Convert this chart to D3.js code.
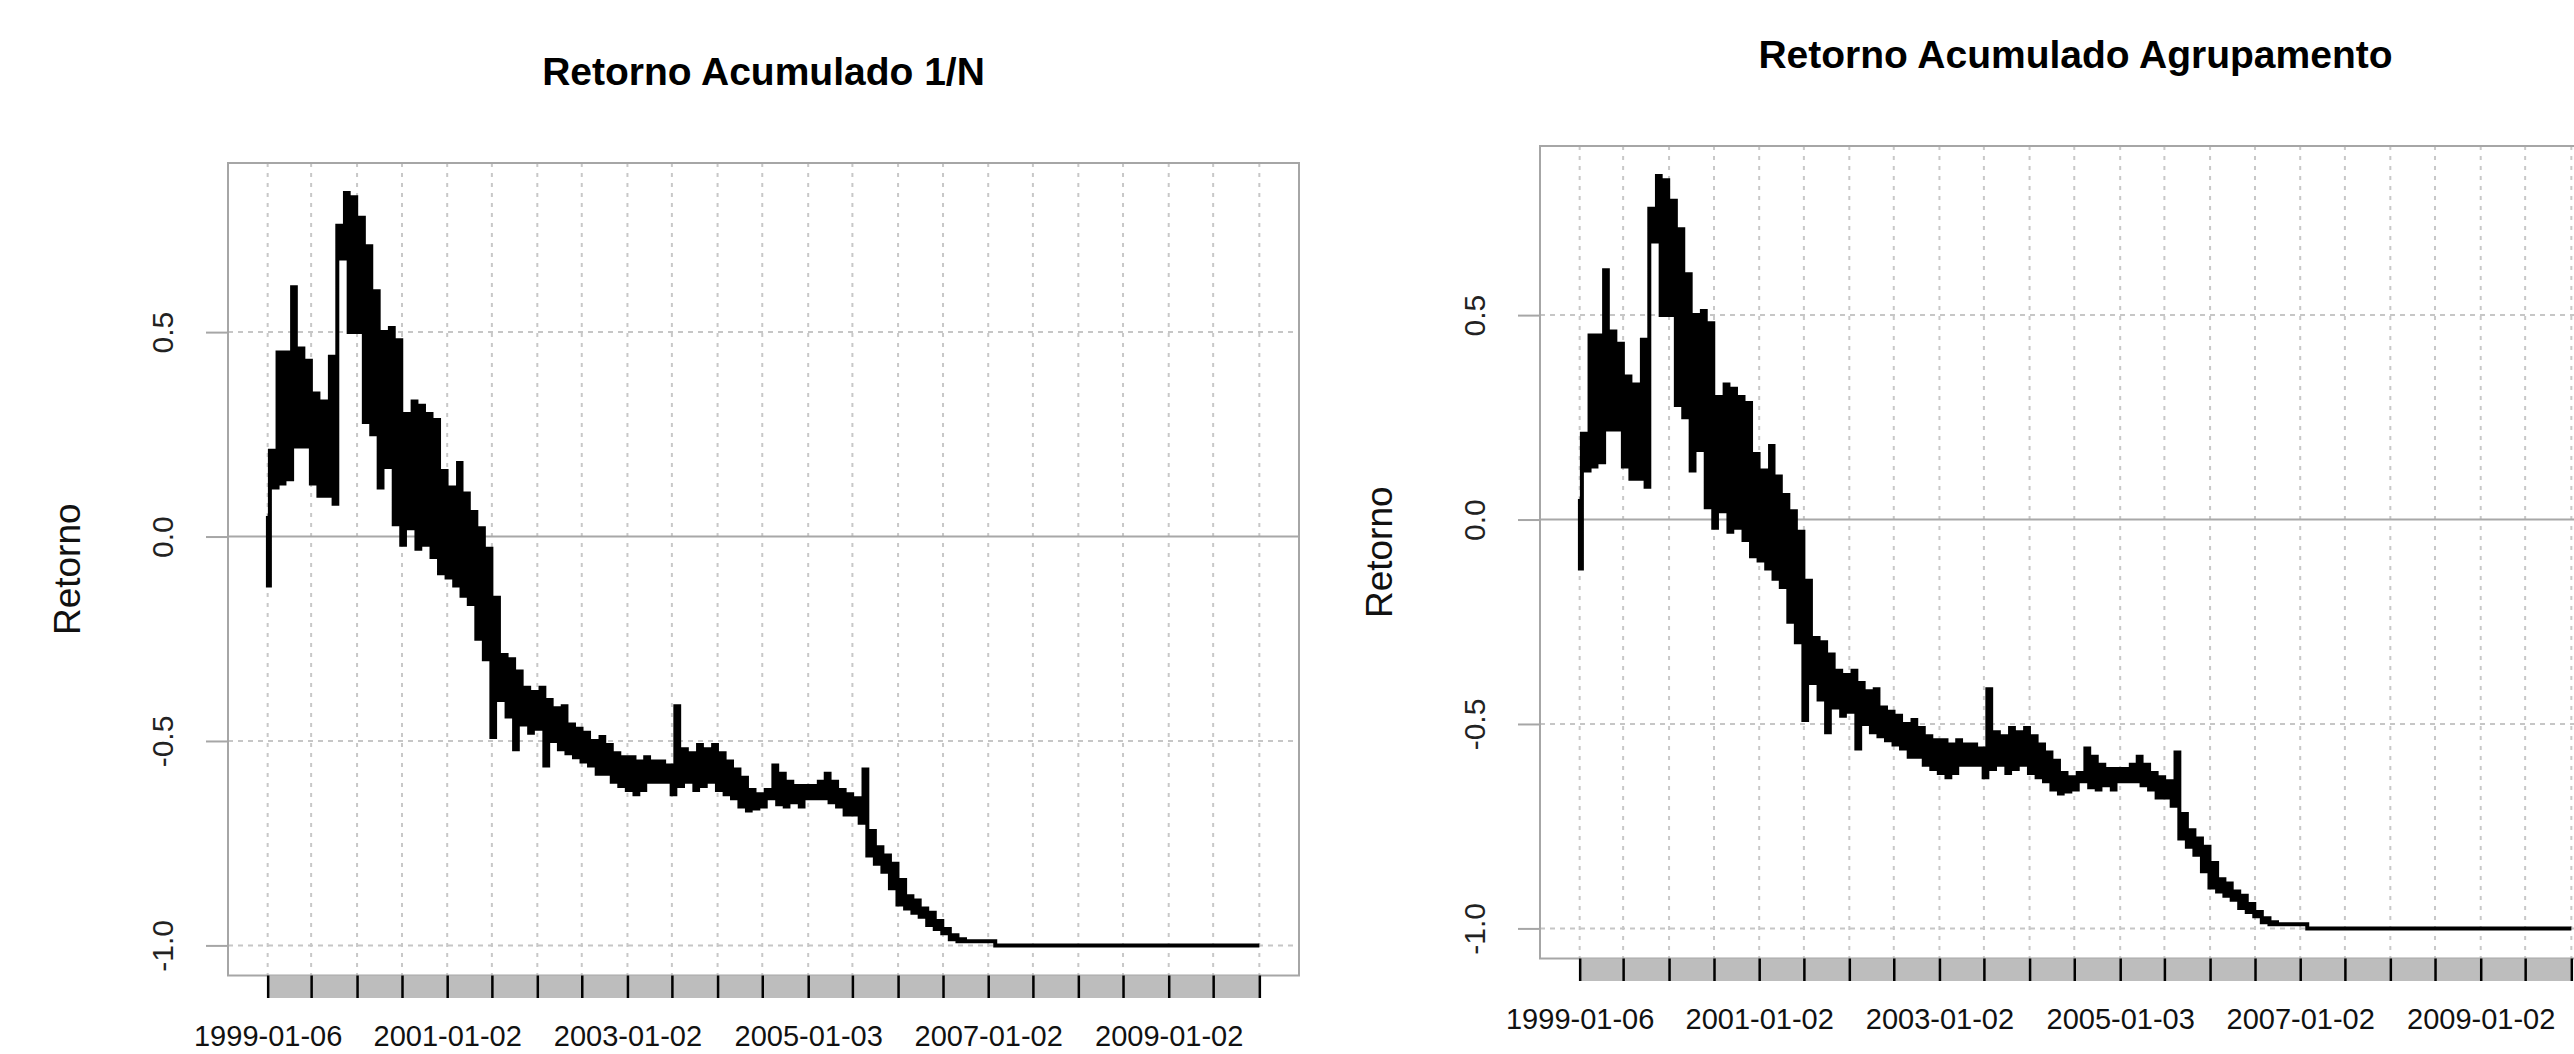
<!DOCTYPE html>
<html>
<head>
<meta charset="utf-8">
<script src="https://cdn.jsdelivr.net/npm/d3@7"></script>
<style>
  body { margin: 0; background: #fff; }
  text { font-family: "Liberation Sans", Arial, sans-serif; }
</style>
</head>
<body>
<svg id="chart" width="2574" height="1054"></svg>
<script>
var titulos = ["Retorno Acumulado 1/N", "Retorno Acumulado Agrupamento"];
var rotuloY = "Retorno";

var dataInicial = "1999-01-06", dataFinal = "2010-01-04";
var valorInicial = 0.05, valorFinal = -1.0;

// marcas semestrais do eixo x (primeiro pregao de cada semestre)
var marcasX = ["1999-01-06", "1999-07-01", "2000-01-03", "2000-07-03", "2001-01-02", "2001-07-02",
               "2002-01-02", "2002-07-01", "2003-01-02", "2003-07-01", "2004-01-02", "2004-07-01",
               "2005-01-03", "2005-07-01", "2006-01-02", "2006-07-03", "2007-01-02", "2007-07-02",
               "2008-01-02", "2008-07-01", "2009-01-02", "2009-07-01", "2010-01-04"];
var rotulosX = ["1999-01-06", "2001-01-02", "2003-01-02", "2005-01-03", "2007-01-02", "2009-01-02"];
var marcasY = [-1.0, -0.5, 0.0, 0.5];

// maximo e minimo de cada mes (jan/1999 .. dez/2009)
var maxMensal1N = [
   0.21,  0.45,  0.45,  0.61,  0.46,  0.43,  0.35,  0.33,  0.44,  0.76,  0.84,  0.83,
   0.78,  0.71,  0.60,  0.50,  0.51,  0.48,  0.30,  0.33,  0.32,  0.30,  0.285, 0.16,
   0.12,  0.18,  0.105, 0.06,  0.02, -0.03, -0.15, -0.29, -0.30, -0.33, -0.37, -0.38,
  -0.37, -0.40, -0.42, -0.415,-0.46, -0.47, -0.48, -0.50, -0.49, -0.51, -0.53, -0.54,
  -0.54, -0.55, -0.54, -0.55, -0.55, -0.56, -0.415,-0.52, -0.53, -0.51, -0.52, -0.51,
  -0.53, -0.55, -0.57, -0.59, -0.62, -0.63, -0.62, -0.56, -0.58, -0.60, -0.61, -0.61,
  -0.61, -0.60, -0.58, -0.60, -0.62, -0.63, -0.64, -0.57, -0.72, -0.76, -0.78, -0.80,
  -0.84, -0.88, -0.89, -0.91, -0.92, -0.94, -0.96, -0.975,-0.985,-0.99, -0.99, -0.99,
  -0.99, -1.0,  -1.0,  -1.0,  -1.0,  -1.0,  -1.0,  -1.0,  -1.0,  -1.0,  -1.0,  -1.0,
  -1.0,  -1.0,  -1.0,  -1.0,  -1.0,  -1.0,  -1.0,  -1.0,  -1.0,  -1.0,  -1.0,  -1.0,
  -1.0,  -1.0,  -1.0,  -1.0,  -1.0,  -1.0,  -1.0,  -1.0,  -1.0,  -1.0,  -1.0,  -1.0
];
var minMensal1N = [
  -0.12,  0.12,  0.13,  0.14,  0.22,  0.22,  0.13,  0.10,  0.10,  0.08,  0.68,  0.50,
   0.50,  0.28,  0.25,  0.12,  0.17,  0.03, -0.02,  0.02, -0.03, -0.02, -0.05, -0.09,
  -0.10, -0.12, -0.145,-0.165,-0.25, -0.30, -0.49, -0.40, -0.44, -0.52, -0.46, -0.48,
  -0.47, -0.56, -0.50, -0.52, -0.53, -0.54, -0.55, -0.56, -0.58, -0.58, -0.60, -0.61,
  -0.62, -0.63, -0.62, -0.60, -0.60, -0.60, -0.63, -0.61, -0.60, -0.62, -0.61, -0.60,
  -0.62, -0.63, -0.64, -0.66, -0.67, -0.665,-0.66, -0.64, -0.655,-0.66, -0.65, -0.66,
  -0.64, -0.64, -0.64, -0.65, -0.66, -0.68, -0.68, -0.70, -0.78, -0.80, -0.82, -0.86,
  -0.90, -0.91, -0.92, -0.93, -0.95, -0.96, -0.97, -0.985,-0.99, -0.99, -0.99, -0.99,
  -0.99, -1.0,  -1.0,  -1.0,  -1.0,  -1.0,  -1.0,  -1.0,  -1.0,  -1.0,  -1.0,  -1.0,
  -1.0,  -1.0,  -1.0,  -1.0,  -1.0,  -1.0,  -1.0,  -1.0,  -1.0,  -1.0,  -1.0,  -1.0,
  -1.0,  -1.0,  -1.0,  -1.0,  -1.0,  -1.0,  -1.0,  -1.0,  -1.0,  -1.0,  -1.0,  -1.0
];
// a curva do agrupamento le igual a do 1/N no grafico
var maxMensalAgrup = maxMensal1N;
var minMensalAgrup = minMensal1N;

var W = 1071, H = 812.5;
var paineis = [
  { titulo: titulos[0], max: maxMensal1N, min: minMensal1N, left: 228, top: 163 },
  { titulo: titulos[1], max: maxMensalAgrup, min: minMensalAgrup, left: 1540, top: 146 }
];

var parse = d3.timeParse("%Y-%m-%d");
var fmt = d3.timeFormat("%Y-%m-%d");
var svg = d3.select("#chart");

paineis.forEach(function(p) {
  var g = svg.append("g").attr("transform", "translate(" + p.left + "," + p.top + ")");

  var t0 = parse(dataInicial), t1 = parse(dataFinal);
  var pontos = [{ d: t0, v: valorInicial }];
  p.min.forEach(function(v, k) {
    var mes = d3.timeMonth.offset(new Date(1999, 0, 1), k);
    pontos.push({ d: d3.timeDay.offset(mes, 7), v: p.min[k] });
    pontos.push({ d: d3.timeDay.offset(mes, 21), v: p.max[k] });
  });
  pontos.push({ d: t1, v: valorFinal });

  // limites como no R: 4% de folga em cada lado
  var padX = (t1 - t0) * 0.04;
  var x = d3.scaleTime()
      .domain([new Date(+t0 - padX), new Date(+t1 + padX)])
      .range([0, W]);
  var ext = d3.extent(pontos, function(d) { return d.v; });
  var padY = (ext[1] - ext[0]) * 0.04;
  var y = d3.scaleLinear()
      .domain([ext[0] - padY, ext[1] + padY])
      .range([H, 0]);

  var datasX = marcasX.map(parse);

  // grade vertical
  g.selectAll(".vgrid")
    .data(datasX)
    .enter()
    .append("line")
      .attr("x1", function(d) { return x(d); })
      .attr("x2", function(d) { return x(d); })
      .attr("y1", 0)
      .attr("y2", H)
      .style("stroke", "#c8c8c8")
      .style("stroke-width", 2)
      .style("stroke-dasharray", "4,6");

  // grade horizontal
  g.selectAll(".hgrid")
    .data(marcasY)
    .enter()
    .append("line")
      .attr("x1", 0)
      .attr("x2", W)
      .attr("y1", function(d) { return y(d); })
      .attr("y2", function(d) { return y(d); })
      .style("stroke", function(d) { return d === 0 ? "#a8a8a8" : "#c6c6c6"; })
      .style("stroke-width", 2)
      .style("stroke-dasharray", function(d) { return d === 0 ? null : "5,5"; });

  // serie
  var linha = d3.line()
      .curve(d3.curveStep)
      .x(function(d) { return x(d.d); })
      .y(function(d) { return y(d.v); });

  g.append("path")
    .datum(pontos)
    .attr("d", linha)
    .style("fill", "none")
    .style("stroke", "#000")
    .style("stroke-width", 4)
    .style("stroke-linejoin", "miter");

  // caixa
  g.append("rect")
    .attr("width", W)
    .attr("height", H)
    .style("fill", "none")
    .style("stroke", "#a6a6a6")
    .style("stroke-width", 2);

  // faixa cinza das marcas diarias
  g.append("rect")
    .attr("x", x(t0))
    .attr("y", H)
    .attr("width", x(t1) - x(t0))
    .attr("height", 22.5)
    .style("fill", "#bdbdbd");

  var eixoX = g.append("g")
    .attr("transform", "translate(0," + H + ")")
    .call(d3.axisBottom(x)
      .tickValues(datasX)
      .tickSize(22.5)
      .tickFormat(function(d) { return rotulosX.indexOf(fmt(d)) >= 0 ? fmt(d) : ""; }));
  eixoX.select(".domain").remove();
  eixoX.selectAll(".tick line").style("stroke", "#000").style("stroke-width", 2.5);
  eixoX.selectAll(".tick text")
    .attr("y", 60)
    .attr("dy", "0.35em")
    .style("font-size", "29px")
    .style("fill", "#111");

  var eixoY = g.append("g")
    .call(d3.axisLeft(y)
      .tickValues(marcasY)
      .tickSize(22)
      .tickFormat(function(d) { return d.toFixed(1); }));
  eixoY.select(".domain").remove();
  eixoY.selectAll(".tick line").style("stroke", "#a6a6a6").style("stroke-width", 2);
  eixoY.selectAll(".tick text")
    .attr("x", 0)
    .attr("y", 0)
    .attr("dy", "0.35em")
    .attr("transform", "translate(-66,0) rotate(-90)")
    .attr("text-anchor", "middle")
    .style("font-size", "30px")
    .style("fill", "#222");

  g.append("text")
    .attr("x", W / 2)
    .attr("y", -92)
    .attr("dy", "0.35em")
    .attr("text-anchor", "middle")
    .style("font-size", "39px")
    .style("font-weight", "bold")
    .text(p.titulo);

  g.append("text")
    .attr("transform", "translate(-161," + (H / 2) + ") rotate(-90)")
    .attr("dy", "0.35em")
    .attr("text-anchor", "middle")
    .style("font-size", "37px")
    .style("fill", "#111")
    .text(rotuloY);
});
</script>
</body>
</html>
